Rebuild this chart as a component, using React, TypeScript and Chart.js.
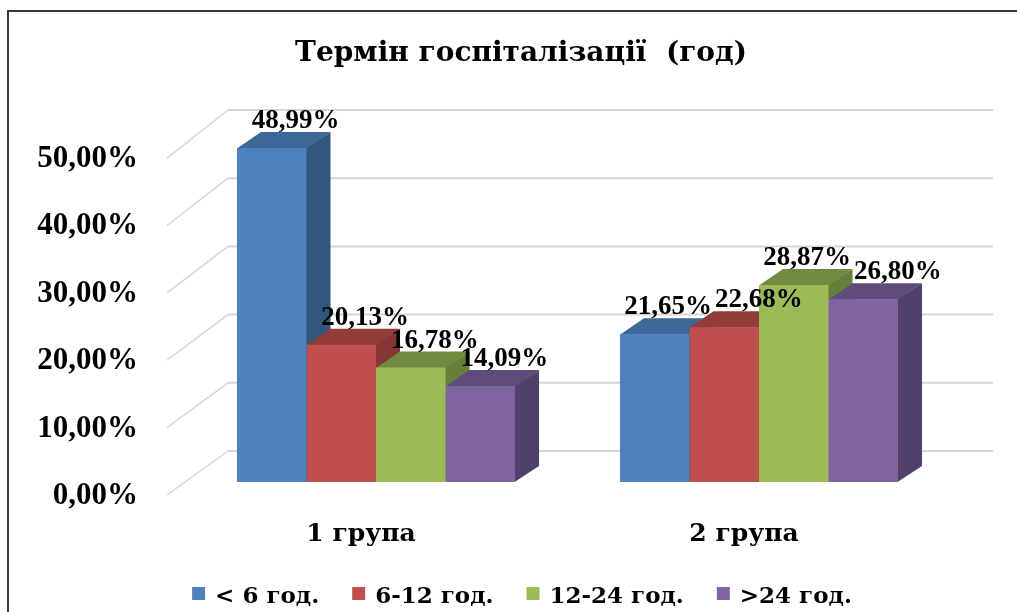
import { useEffect, useRef } from "react";
import { Chart, registerables } from "chart.js";

Chart.register(...registerables);

const chartTitle = "Термін госпіталізації  (год)";
const categories = ["1 група", "2 група"];
const seriesLabels = ["< 6 год.", "6-12 год.", "12-24 год.", ">24 год."];
const under6 = [48.99, 21.65];
const from6to12 = [20.13, 22.68];
const from12to24 = [16.78, 28.87];
const over24 = [14.09, 26.8];
const yTickValues = [0, 10, 20, 30, 40, 50];

const frontColors = ["#4F81BD", "#C0504D", "#9BBB59", "#8064A2"];
const topColors = ["#3D6796", "#923C3A", "#718B40", "#5F4B7C"];
const sideColors = ["#31577F", "#853735", "#677F3A", "#514069"];

const DX = 24;
const DY = -16;
const NUM_FONT = "bold 31px 'Liberation Serif'";
const LABEL_FONT = "bold 27px 'Liberation Serif'";
const TEXT_FONT = "'DejaVu Serif'";

const fmt = (v: number) => v.toFixed(2).replace(".", ",") + "%";

const depthPlugin = {
  id: "depth3d",
  beforeDraw(chart: any) {
    const ctx = chart.ctx;
    ctx.save();
    ctx.fillStyle = "#ffffff";
    ctx.fillRect(0, 0, chart.width, chart.height);
    ctx.strokeStyle = "#3a3a3a";
    ctx.lineWidth = 2;
    ctx.beginPath();
    ctx.moveTo(8, chart.height + 2);
    ctx.lineTo(8, 11);
    ctx.lineTo(chart.width + 2, 11);
    ctx.stroke();
    ctx.restore();
  },
  beforeDatasetsDraw(chart: any) {
    const ctx = chart.ctx;
    const y = chart.scales.y;
    const x = chart.scales.x;
    const base = y.getPixelForValue(0);
    ctx.save();
    // back wall gridlines + diagonals + tick labels
    yTickValues.forEach((v) => {
      const py = y.getPixelForValue(v);
      const backY = py - 31;
      const frontY = base + 13 - (base - py) * 0.988;
      ctx.strokeStyle = "#d6d6d6";
      ctx.lineWidth = 2;
      ctx.beginPath();
      ctx.moveTo(228, backY);
      ctx.lineTo(993, backY);
      ctx.stroke();
      ctx.lineWidth = 1.5;
      ctx.beginPath();
      ctx.moveTo(167, frontY);
      ctx.lineTo(228, backY);
      ctx.stroke();
      ctx.fillStyle = "#000000";
      ctx.font = NUM_FONT;
      ctx.textAlign = "right";
      ctx.textBaseline = "middle";
      ctx.fillText(fmt(v), 138, frontY + 1);
    });
    // category labels
    ctx.font = "bold 25px " + TEXT_FONT;
    ctx.textAlign = "center";
    ctx.textBaseline = "alphabetic";
    ctx.fillStyle = "#000000";
    categories.forEach((c, i) => {
      ctx.fillText(c, x.getPixelForValue(i) - 15, 541);
    });
    // title
    ctx.font = "bold 28px " + TEXT_FONT;
    ctx.fillText(chartTitle, 521, 61);
    // legend
    ctx.font = "bold 23px " + TEXT_FONT;
    const box = 13;
    const gapText = 10;
    const gapItem = 33;
    const widths = chart.data.datasets.map((d: any) => ctx.measureText(d.label).width);
    const total =
      widths.reduce((a: number, b: number) => a + b, 0) +
      widths.length * (box + gapText) +
      (widths.length - 1) * gapItem;
    let lx = 522 - total / 2;
    ctx.textAlign = "left";
    chart.data.datasets.forEach((d: any, i: number) => {
      ctx.fillStyle = frontColors[i];
      ctx.fillRect(lx, 587, box, box);
      ctx.fillStyle = "#000000";
      ctx.fillText(d.label, lx + box + gapText, 603);
      lx += box + gapText + widths[i] + gapItem;
    });
    // 3D side and top faces, painted left to right; fronts are drawn by Chart.js afterwards
    chart.data.datasets.forEach((d: any, i: number) => {
      chart.getDatasetMeta(i).data.forEach((el: any) => {
        const p = el.getProps(["x", "y", "base", "width"], true);
        const l = p.x - p.width / 2;
        const r = p.x + p.width / 2;
        const t = p.y;
        const b = p.base;
        ctx.fillStyle = sideColors[i];
        ctx.beginPath();
        ctx.moveTo(r - 0.5, b);
        ctx.lineTo(r + DX, b + DY);
        ctx.lineTo(r + DX, t + DY);
        ctx.lineTo(r - 0.5, t);
        ctx.closePath();
        ctx.fill();
        ctx.fillStyle = topColors[i];
        ctx.beginPath();
        ctx.moveTo(l, t + 0.5);
        ctx.lineTo(l + DX, t + DY);
        ctx.lineTo(r + DX, t + DY);
        ctx.lineTo(r, t + 0.5);
        ctx.closePath();
        ctx.fill();
      });
    });
    ctx.restore();
  },
  afterDatasetsDraw(chart: any) {
    const ctx = chart.ctx;
    ctx.save();
    ctx.font = LABEL_FONT;
    ctx.fillStyle = "#000000";
    ctx.textAlign = "center";
    ctx.textBaseline = "alphabetic";
    const nCat = chart.data.labels.length;
    for (let c = 0; c < nCat; c++) {
      const items: any[] = [];
      chart.data.datasets.forEach((d: any, di: number) => {
        const el = chart.getDatasetMeta(di).data[c];
        const p = el.getProps(["x", "y"], true);
        const text = fmt(d.data[c]);
        const w = ctx.measureText(text).width;
        const bl = p.y - 20;
        items.push({ text, cx: p.x + DX, w, top: bl - 17, bottom: bl, bl });
      });
      for (let pass = 0; pass < 4; pass++) {
        for (let k = 0; k < items.length - 1; k++) {
          const a = items[k];
          const bb = items[k + 1];
          const vOverlap = a.top < bb.bottom && bb.top < a.bottom;
          const need = (a.w + bb.w) / 2 + 3;
          const dist = bb.cx - a.cx;
          if (vOverlap && dist < need) {
            const push = (need - dist) / 2;
            a.cx -= push;
            bb.cx += push;
          }
        }
      }
      items.forEach((it) => ctx.fillText(it.text, it.cx, it.bl));
    }
    ctx.restore();
  },
};

export default function App() {
  const ref = useRef<HTMLCanvasElement | null>(null);
  useEffect(() => {
    if (!ref.current) return;
    const series = [under6, from6to12, from12to24, over24];
    const chart = new Chart(ref.current, {
      type: "bar",
      data: {
        labels: categories,
        datasets: series.map((s, i) => ({
          label: seriesLabels[i],
          data: s,
          backgroundColor: frontColors[i],
          borderWidth: 0,
          categoryPercentage: 0.726,
          barPercentage: 1,
        })),
      },
      options: {
        responsive: false,
        animation: false,
        devicePixelRatio: 1,
        layout: { padding: { left: 184.5, right: 66.5, top: 141, bottom: 130 } },
        scales: {
          x: { display: false },
          y: { display: false, min: 0, max: 50 },
        },
        plugins: {
          legend: { display: false },
          title: { display: false },
          tooltip: { enabled: false },
        },
      },
      plugins: [depthPlugin],
    });
    return () => chart.destroy();
  }, []);
  return (
    <div style={{ position: "absolute", left: 0, top: 0, width: 1017, height: 612, background: "#fff" }}>
      <canvas ref={ref} width={1017} height={612} style={{ display: "block" }} />
    </div>
  );
}
